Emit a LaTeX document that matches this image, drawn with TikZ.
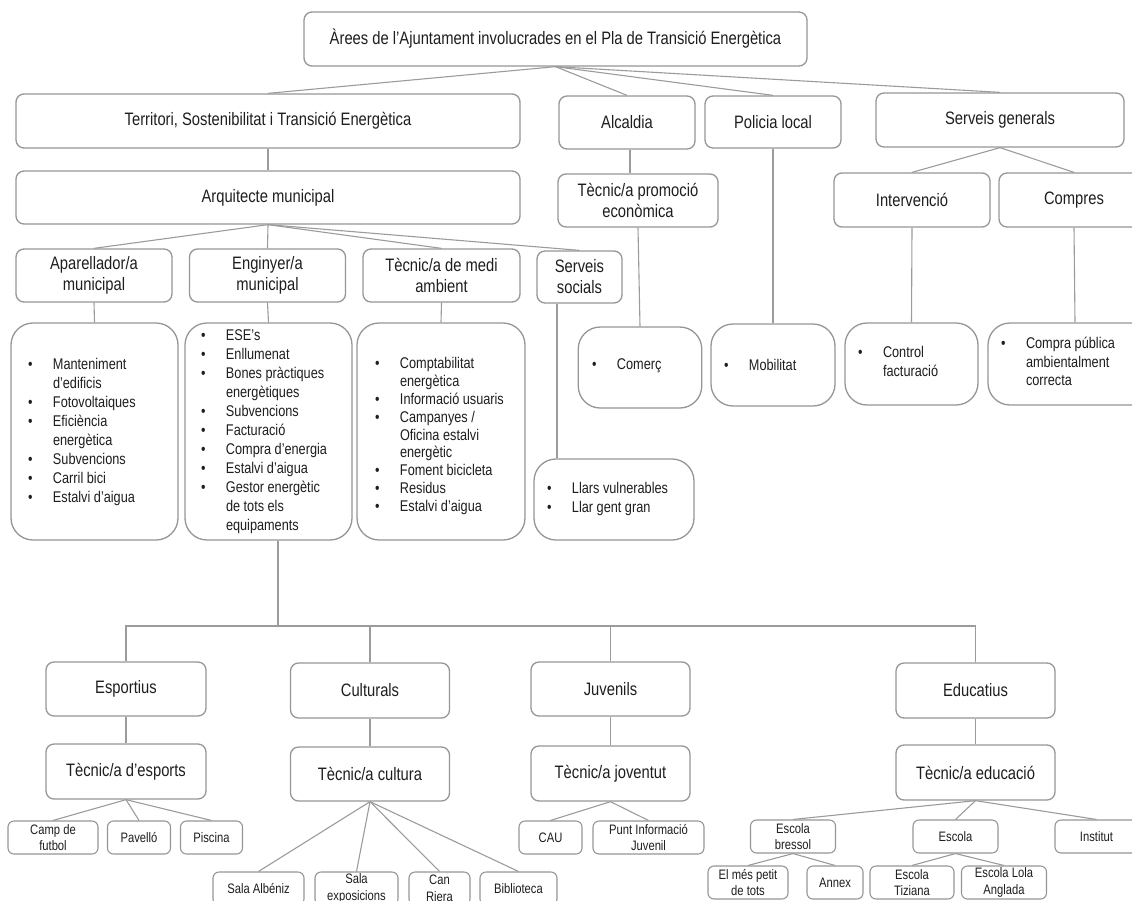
\documentclass[tikz,border=0pt]{standalone}
\usepackage{fontspec}
\setmainfont{Liberation Sans}[FakeStretch=0.82]

\definecolor{bordercol}{RGB}{150,150,150}
\definecolor{linecol}{RGB}{155,155,155}
\definecolor{txtcol}{RGB}{30,30,30}

% bullet list helpers: bullet column of width \bw, continuation lines indented
\newlength{\bw}\setlength{\bw}{25pt}
\newcommand{\bu}{\makebox[\bw][l]{\textbullet}}
\newcommand{\nb}{\hspace*{\bw}}

\tikzset{
  mbox/.style={draw=bordercol, line width=1.3pt, rounded corners=8pt, fill=white,
    text=txtcol, align=center, inner sep=0pt, font=\fontsize{18}{21}\selectfont},
  sbox/.style={draw=bordercol, line width=1.1pt, rounded corners=6pt, fill=white,
    text=txtcol, align=center, inner sep=0pt, font=\fontsize{13.7}{16.5}\selectfont},
  lbox/.style={draw=bordercol, line width=1.3pt, rounded corners=22pt, fill=white,
    inner sep=0pt},
  ltext/.style={anchor=west, inner sep=0pt, text=txtcol, align=left,
    font=\fontsize{15.5}{19}\selectfont},
  conn/.style={draw=linecol, line width=1.1pt},
}

\begin{document}
\begin{tikzpicture}[x=1pt,y=-1pt]
\useasboundingbox (0,0) rectangle (1132,900);
\clip (0,0) rectangle (1132,900);

% ---------- top levels ----------
\node[mbox, minimum width=503pt, minimum height=54pt] (root) at (555.5,39)
  {Àrees de l’Ajuntament involucrades en el Pla de Transició Energètica};
\node[mbox, minimum width=504pt, minimum height=54pt] (terr) at (268,121)
  {Territori, Sostenibilitat i Transició Energètica};
\node[mbox, minimum width=136pt, minimum height=53pt] (alc) at (627,122.5) {Alcaldia};
\node[mbox, minimum width=136pt, minimum height=52pt] (pol) at (773,122) {Policia local};
\node[mbox, minimum width=248pt, minimum height=54pt] (sg) at (1000,120) {Serveis generals};

\node[mbox, minimum width=504pt, minimum height=53pt] (arq) at (268,197.5) {Arquitecte municipal};
\node[mbox, minimum width=160pt, minimum height=53pt] (tpe) at (638,200.5) {Tècnic/a promoció\\econòmica};
\node[mbox, minimum width=156pt, minimum height=54pt] (int) at (912,200) {Intervenció};
\node[mbox, minimum width=150pt, minimum height=54pt] (comp) at (1074,200) {Compres};

\node[mbox, minimum width=156pt, minimum height=53pt] (apa) at (94,275.5) {Aparellador/a\\municipal};
\node[mbox, minimum width=156pt, minimum height=53pt] (eng) at (267.5,275.5) {Enginyer/a\\municipal};
\node[mbox, minimum width=157pt, minimum height=53pt] (med) at (441.5,275.5) {Tècnic/a de medi\\ambient};
\node[mbox, minimum width=85pt, minimum height=52pt] (soc) at (579.5,277) {Serveis\\socials};

% ---------- task lists ----------
\node[lbox, minimum width=167pt, minimum height=217pt] (L1) at (94.5,431.5) {};
\node[ltext] (L1t) at (27.8,432.5) {\begin{tabular}{@{}l@{}}
  \bu Manteniment\\ \nb d’edificis\\ \bu Fotovoltaiques\\ \bu Eficiència\\
  \nb energètica\\ \bu Subvencions\\ \bu Carril bici\\ \bu Estalvi d’aigua
  \end{tabular}};

\node[lbox, minimum width=167pt, minimum height=217pt] (L2) at (268.5,431.5) {};
\node[ltext] (L2t) at (200.8,431.5) {\begin{tabular}{@{}l@{}}
  \bu ESE’s\\ \bu Enllumenat\\ \bu Bones pràctiques\\ \nb energètiques\\
  \bu Subvencions\\ \bu Facturació\\ \bu Compra d’energia\\ \bu Estalvi d’aigua\\
  \bu Gestor energètic\\ \nb de tots els\\ \nb equipaments
  \end{tabular}};

\node[lbox, minimum width=168pt, minimum height=217pt] (L3) at (441,431.5) {};
\node[ltext, font=\fontsize{15.5}{17.8}\selectfont] (L3t) at (374.8,436.5) {\begin{tabular}{@{}l@{}}
  \bu Comptabilitat\\ \nb energètica\\ \bu Informació usuaris\\ \bu Campanyes /\\
  \nb Oficina estalvi\\ \nb energètic\\ \bu Foment bicicleta\\ \bu Residus\\
  \bu Estalvi d’aigua
  \end{tabular}};

\node[lbox, minimum width=160pt, minimum height=81pt] (llars) at (614,499.5) {};
\node[ltext] (llarst) at (546.8,499) {\begin{tabular}{@{}l@{}}
  \bu Llars vulnerables\\ \bu Llar gent gran\end{tabular}};

\node[lbox, minimum width=123.5pt, minimum height=81pt] (com) at (640,367.5) {};
\node[ltext] (comt) at (591.8,366) {\bu Comerç};

\node[lbox, minimum width=124pt, minimum height=82pt] (mob) at (773,365) {};
\node[ltext] (mobt) at (723.8,365) {\bu Mobilitat};

\node[lbox, minimum width=133pt, minimum height=82pt] (ctrl) at (911.5,364) {};
\node[ltext] (ctrlt) at (857.8,363.5) {\begin{tabular}{@{}l@{}}
  \bu Control\\ \nb facturació\end{tabular}};

\node[lbox, minimum width=174pt, minimum height=82pt] (cpa) at (1075,364) {};
\node[ltext, font=\fontsize{15.5}{18.5}\selectfont] (cpat) at (1000.8,363.5) {\begin{tabular}{@{}l@{}}
  \bu Compra pública\\ \nb ambientalment\\ \nb correcta\end{tabular}};

% ---------- facilities ----------
\node[mbox, minimum width=160pt, minimum height=54pt] (esp) at (126,689) {Esportius};
\node[mbox, minimum width=160pt, minimum height=55pt] (tesp) at (126,771.5) {Tècnic/a d’esports};
\node[mbox, minimum width=159pt, minimum height=55pt] (cul) at (370,690.5) {Culturals};
\node[mbox, minimum width=159pt, minimum height=54pt] (tcul) at (370,774) {Tècnic/a cultura};
\node[mbox, minimum width=159pt, minimum height=54pt] (juv) at (610.5,689) {Juvenils};
\node[mbox, minimum width=159pt, minimum height=55pt] (tjuv) at (610.5,773.5) {Tècnic/a joventut};
\node[mbox, minimum width=159pt, minimum height=55pt] (edu) at (975.5,690.5) {Educatius};
\node[mbox, minimum width=159pt, minimum height=55pt] (tedu) at (975.5,772.5) {Tècnic/a educació};

\node[sbox, minimum width=90pt, minimum height=33pt] (camp) at (53,837.5) {Camp de\\futbol};
\node[sbox, minimum width=63pt, minimum height=33pt] (pav) at (139,837.5) {Pavelló};
\node[sbox, minimum width=62pt, minimum height=33pt] (pisc) at (211.5,837.5) {Piscina};

\node[sbox, minimum width=91pt, minimum height=33pt] (salb) at (258.5,888.5) {Sala Albéniz};
\node[sbox, minimum width=83pt, minimum height=33pt] (sexp) at (356.5,888.5) {Sala\\exposicions};
\node[sbox, minimum width=61pt, minimum height=33pt] (canr) at (439.5,888.5) {Can\\Riera};
\node[sbox, minimum width=77pt, minimum height=33pt] (bibl) at (518.5,888.5) {Biblioteca};

\node[sbox, minimum width=63pt, minimum height=33pt] (cau) at (550.5,837.5) {CAU};
\node[sbox, minimum width=111pt, minimum height=33pt] (punt) at (648.5,837.5) {Punt Informació\\Juvenil};

\node[sbox, minimum width=85pt, minimum height=33pt] (ebr) at (793,836.5) {Escola\\bressol};
\node[sbox, minimum width=85pt, minimum height=33pt] (esc) at (955.5,836.5) {Escola};
\node[sbox, minimum width=83pt, minimum height=33pt] (inst) at (1096.5,836.5) {Institut};
\node[sbox, minimum width=80pt, minimum height=33pt] (petit) at (748,882.5) {El més petit\\de tots};
\node[sbox, minimum width=56pt, minimum height=33pt] (annex) at (835,882.5) {Annex};
\node[sbox, minimum width=84pt, minimum height=33pt] (tiz) at (912,882.5) {Escola\\Tiziana};
\node[sbox, minimum width=85pt, minimum height=33pt] (lola) at (1004,882.5) {Escola Lola\\Anglada};

% ---------- connectors ----------
\foreach \c in {terr,alc,pol,sg} \draw[conn] (root.south) -- (\c.north);
\draw[conn] (terr.south) -- (arq.north);
\draw[conn] ([xshift=3pt]alc.south) -- ([xshift=3pt]alc.south |- tpe.north);
\foreach \c in {int,comp} \draw[conn] (sg.south) -- (\c.north);
\foreach \c in {apa,eng,med,soc} \draw[conn] (arq.south) -- (\c.north);
\draw[conn] (apa.south) -- (L1.north);
\draw[conn] (eng.south) -- (L2.north);
\draw[conn] (med.south) -- (L3.north);
\draw[conn] (tpe.south) -- (com.north);
\draw[conn] (pol.south) -- (mob.north);
\draw[conn] (int.south) -- (ctrl.north);
\draw[conn] (comp.south) -- (cpa.north);
\draw[conn] ([xshift=-22.5pt]soc.south) -- ([xshift=-22.5pt]soc.south |- llars.north);

% bus feeding the facility groups
\coordinate (bus) at (278,626);
\draw[conn] ([xshift=9.5pt]L2.south) -- (bus);
\draw[conn] (esp.north) -- (esp.north |- bus) -- (edu.north |- bus) -- (edu.north);
\draw[conn] (cul.north) -- (cul.north |- bus);
\draw[conn] (juv.north) -- (juv.north |- bus);

\draw[conn] (esp.south) -- (tesp.north);
\draw[conn] (cul.south) -- (tcul.north);
\draw[conn] (juv.south) -- (tjuv.north);
\draw[conn] (edu.south) -- (tedu.north);

\foreach \c in {camp,pav,pisc} \draw[conn] (tesp.south) -- (\c.north);
\foreach \c in {salb,sexp,canr,bibl} \draw[conn] (tcul.south) -- (\c.north);
\foreach \c in {cau,punt} \draw[conn] (tjuv.south) -- (\c.north);
\foreach \c in {ebr,esc,inst} \draw[conn] (tedu.south) -- (\c.north);
\foreach \c in {petit,annex} \draw[conn] (ebr.south) -- (\c.north);
\foreach \c in {tiz,lola} \draw[conn] (esc.south) -- (\c.north);
\end{tikzpicture}
\end{document}
